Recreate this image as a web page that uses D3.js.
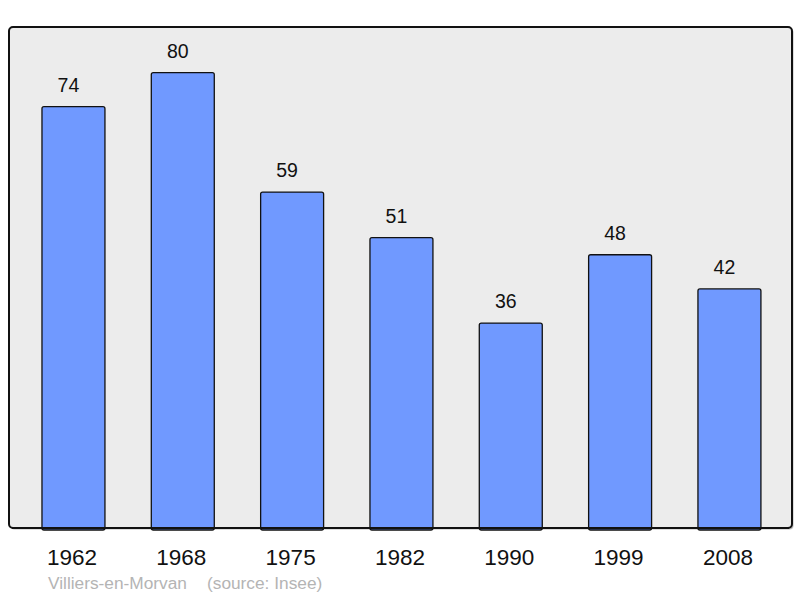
<!DOCTYPE html>
<html><head><meta charset="utf-8">
<script src="https://cdnjs.cloudflare.com/ajax/libs/d3/7.8.5/d3.min.js"></script>
<style>body{margin:0;background:#fff}svg{display:block}</style>
</head><body><svg id="c" width="800" height="598"></svg>
<script>
const years = ["1962","1968","1975","1982","1990","1999","2008"];
const population = [74,80,59,51,36,48,42];
const commune = "Villiers-en-Morvan";
const source = "(source: Insee)";

const svg = d3.select("#c");
const font = "'Liberation Sans', Arial, sans-serif";
const plot = {x0:9, y0:27, x1:792, y1:528};

svg.append("rect").attr("x",plot.x0+1.5).attr("y",plot.y0+1.5)
  .attr("width",plot.x1-plot.x0).attr("height",plot.y1-plot.y0)
  .attr("rx",4).attr("fill","#bbb");
svg.append("rect").attr("x",plot.x0).attr("y",plot.y0)
  .attr("width",plot.x1-plot.x0).attr("height",plot.y1-plot.y0)
  .attr("rx",4).attr("fill","#ececec").attr("stroke","#111").attr("stroke-width",2);

const x = d3.scaleBand().domain(years).range([18.8,784.1]).paddingInner(0.424).paddingOuter(0.212);
const y = d3.scaleLinear().domain([0,88]).range([plot.y1, plot.y0]);

const data = years.map((yr,i)=>({yr, v:population[i]}));

svg.append("g").selectAll("rect").data(data).join("rect")
  .attr("x",d=>x(d.yr)).attr("y",d=>y(d.v))
  .attr("width",x.bandwidth()).attr("height",d=>y(0)-y(d.v)+2)
  .attr("rx",2).attr("fill","#7099ff").attr("stroke","#111").attr("stroke-width",1.3);

svg.append("line").attr("x1",plot.x0+3).attr("x2",plot.x1-3).attr("y1",plot.y1).attr("y2",plot.y1)
  .attr("stroke","#111").attr("stroke-width",2);

svg.append("g").selectAll("text").data(data).join("text")
  .attr("x",d=>x(d.yr)+x.bandwidth()/2-5).attr("y",d=>y(d.v)-15)
  .attr("text-anchor","middle").attr("font-family",font).attr("font-size",19.5).attr("fill","#111")
  .text(d=>d.v);

const xAxis = d3.axisBottom(x).tickSize(0).tickPadding(0);
const gx = svg.append("g").attr("transform",`translate(0,${plot.y1})`).call(xAxis);
gx.select(".domain").remove();
gx.selectAll("text").attr("font-family",font).attr("font-size",22.5).attr("fill","#111")
  .attr("dy",null).attr("y",37).attr("x",-1.5);

svg.append("text").attr("x",48).attr("y",589).attr("font-family",font).attr("font-size",17.3)
  .attr("fill","#b4b4b4").text(commune);
svg.append("text").attr("x",207).attr("y",589).attr("font-family",font).attr("font-size",17.3)
  .attr("fill","#b4b4b4").text(source);
</script></body></html>
